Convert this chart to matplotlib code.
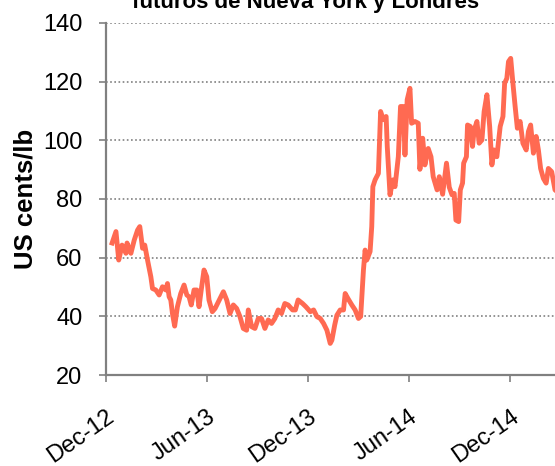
import matplotlib
matplotlib.use("Agg")
import matplotlib.pyplot as plt
import matplotlib.dates as mdates
import pandas as pd

# ── Data (days after 1 Dec 2012, US cents/lb) ────────────────────────────────
start = pd.Timestamp("2012-12-01")
days = [11, 18, 23, 29, 36, 38, 45, 51, 57, 61, 66, 70, 75, 81, 84, 90, 96,
        102, 108, 111, 114, 117, 120, 124, 129, 135, 141, 146, 150, 154, 159,
        164, 168, 172, 177, 182, 186, 192, 197, 203, 212, 218, 224, 230, 236,
        242, 248, 254, 257, 263, 269, 275, 281, 287, 293, 299, 305, 311, 317,
        323, 329, 337, 342, 347, 355, 361, 369, 375, 381, 387, 393, 399, 405,
        408, 413, 417, 423, 429, 432, 437, 444, 450, 456, 460, 465, 468, 471,
        477, 480, 482, 486, 492, 496, 501, 506, 508, 513, 518, 522, 528, 532,
        537, 540, 544, 549, 552, 558, 564, 567, 572, 576, 582, 587, 591, 598,
        602, 608, 615, 620, 625, 629, 632, 637, 640, 644, 646, 651, 653, 658,
        662, 665, 670, 674, 679, 683, 688, 693, 697, 701, 706, 712, 717, 720,
        724, 727, 731, 735, 739, 743, 748, 753, 759, 763, 767, 772, 777, 781,
        785, 790, 795, 799, 805, 811, 818]
price = [65, 68.9, 59.2, 64.3, 61.5, 65, 61.5, 66, 69.4, 70.6, 63.2, 64.3,
         59.2, 53.5, 49.5, 49, 47.3, 50.1, 49, 51.2, 46.7, 45.6, 41, 36.7,
         43.3, 47.8, 50.7, 47.3, 46.7, 43.9, 49, 49, 43.3, 49, 55.8, 53.5,
         45.6, 41.6, 42.7, 45, 48.4, 45.6, 41, 43.9, 42.7, 39.9, 35.9, 35.3,
         42.2, 36.5, 35.9, 39.3, 39.3, 35.9, 38.8, 37.6, 39.3, 42.2, 41, 44.4,
         43.9, 42.2, 42.2, 45.6, 44.4, 43.3, 41.6, 42.2, 39.9, 39.3, 37.6,
         35.3, 30.8, 31.9, 37, 40.4, 42.2, 42.2, 47.8, 46.1, 43.9, 42.2, 39.3,
         40, 55.8, 62.6, 59.2, 62.1, 70.6, 84.2, 86.5, 88.7, 109.8, 107,
         108.1, 97.9, 81.4, 86.5, 84.2, 94.4, 111.5, 111.5, 95, 113.8, 117.7,
         105.8, 106.4, 105.8, 90.1, 100.7, 91.6, 97.2, 94.4, 87.6, 83.1, 87.6,
         81.6, 92.2, 84, 81.4, 81.9, 72.8, 72.3, 83.1, 85.4, 92.2, 94.4,
         105.2, 104.7, 97.9, 103.5, 106.4, 99, 100.1, 109.8, 115.5, 104.7,
         91.6, 96.7, 94.4, 104.7, 108.1, 119.4, 121.1, 126.8, 127.9, 119.4,
         111.5, 104.1, 106.4, 99, 96.7, 103, 105.2, 95.6, 101.3, 96.7, 90.4,
         87, 85.4, 90.4, 89.3, 83.1, 82]

tick_dates = ["2012-12-01", "2013-06-01", "2013-12-01", "2014-06-01",
              "2014-12-01"]
y_ticks = [20, 40, 60, 80, 100, 120, 140]

dates = start + pd.to_timedelta(days, unit="D")

# ── Style ────────────────────────────────────────────────────────────────────
plt.rcParams["font.family"] = ["Liberation Sans", "DejaVu Sans"]
LINE = "#FF6A52"
GRAY = "#808080"

fig = plt.figure(figsize=(5.55, 4.66), dpi=100)
ax = fig.add_axes([0.191, 0.195, 0.809, 0.756])

ax.plot(dates, price, color=LINE, lw=3.5, solid_joinstyle="round", zorder=3)

ax.set_xlim(start, start + pd.Timedelta(days=811))
ax.set_ylim(20, 140)
ax.set_yticks(y_ticks)
ax.set_xticks(pd.to_datetime(tick_dates))
ax.xaxis.set_major_formatter(mdates.DateFormatter("%b-%y"))

ax.yaxis.grid(True, color=GRAY, lw=1.2, linestyle=(0, (1, 1.5)), zorder=0)
ax.set_axisbelow(True)
for s in ["top", "right"]:
    ax.spines[s].set_visible(False)
for s in ["left", "bottom"]:
    ax.spines[s].set_color(GRAY)
    ax.spines[s].set_linewidth(1.6)

ax.tick_params(axis="both", colors=GRAY, width=1.2, length=5,
               labelcolor="black", labelsize=17)
ax.tick_params(axis="y", pad=12)
ax.tick_params(axis="x", pad=17)
for lab in ax.get_xticklabels():
    lab.set_rotation(35)
    lab.set_ha("right")
    lab.set_va("top")
    lab.set_rotation_mode("anchor")

ax.set_ylabel("US cents/lb", fontsize=18.5, fontweight="bold", labelpad=4)

fig.text(0.55, 0.983, "futuros de Nueva York y Londres", ha="center",
         va="baseline", fontsize=16, fontweight="bold")

fig.savefig("out.png", dpi=100)
